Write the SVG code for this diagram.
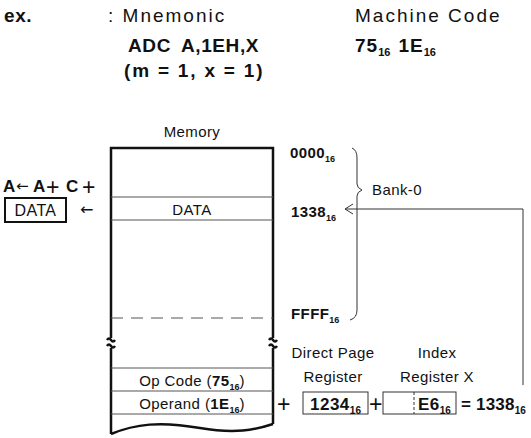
<svg xmlns="http://www.w3.org/2000/svg" width="531" height="438" viewBox="0 0 531 438">
<style>
text{font-family:"Liberation Sans",Arial,sans-serif;fill:#111;font-size:15px;letter-spacing:0.4px}
.b{font-weight:bold}
.s{font-size:9px;font-weight:bold;letter-spacing:0}
.h{font-size:19px;letter-spacing:2px}
.hb{font-size:19px;font-weight:bold;letter-spacing:0.6px}
.hs{font-size:11px;font-weight:bold;letter-spacing:0}
.m{font-size:17px;font-weight:bold;letter-spacing:0.5px}
.ms{font-size:10px;font-weight:bold;letter-spacing:0}
.plus{font-size:23px;font-weight:normal;letter-spacing:0}
.arr{font-family:"DejaVu Sans",sans-serif;font-weight:normal;letter-spacing:0}
.edge{fill:none;stroke:#111;stroke-width:2.5}
.thin{fill:none;stroke:#555;stroke-width:1}
.ln{fill:none;stroke:#333;stroke-width:1}
</style>
<rect width="531" height="438" fill="#fff"/>
<g id="header">
<text x="4" y="22" class="hb">ex.</text>
<text x="108" y="22" class="h">: Mnemonic</text>
<text x="355" y="22" class="h">Machine Code</text>
<text x="128" y="52" class="hb">ADC<tspan dx="10">A,1EH,X</tspan></text>
<text x="355" y="52" class="hb" style="letter-spacing:1px">75<tspan class="hs" dy="4">16</tspan><tspan dy="-4" dx="8">1E</tspan><tspan class="hs" dy="4">16</tspan></text>
<text x="124" y="77" class="hb" style="letter-spacing:1.8px">(m = 1, x = 1)</text>
</g>
<g id="memory">
<text x="192" y="137" text-anchor="middle">Memory</text>
<path class="edge" d="M111,338 V148 H273 V338"/>
<path class="edge" d="M111,348 V434 M273,348 V424"/>
<path class="edge" d="M107,340 q2,-3 4,0 t4,0 M107,346 q2,-3 4,0 t4,0 M269,340 q2,-3 4,0 t4,0 M269,346 q2,-3 4,0 t4,0"/>
<path class="edge" d="M111,434 C135,424 160,421 200,428 C235,434 255,430 273,424"/>
<path class="thin" d="M111,197 H273 M111,220 H273 M111,368 H273 M111,391 H273 M111,414 H273"/>
<path class="thin" d="M111,318 H273" stroke-dasharray="12,8"/>
<text x="192" y="215" text-anchor="middle">DATA</text>
<text x="192" y="386" text-anchor="middle">Op Code (<tspan class="b">75</tspan><tspan class="s" dy="4">16</tspan><tspan dy="-4">)</tspan></text>
<text x="192" y="409" text-anchor="middle">Operand (<tspan class="b">1E</tspan><tspan class="s" dy="4">16</tspan><tspan dy="-4">)</tspan></text>
</g>
<g id="addresses">
<text x="290" y="158" class="b">0000<tspan class="s" dy="4">16</tspan></text>
<text x="291" y="217" class="b">1338<tspan class="s" dy="4">16</tspan></text>
<text x="291" y="319" class="b">FFFF<tspan class="s" dy="4">16</tspan></text>
<path class="ln" d="M352,148 Q357,150 357,158 V184 Q357,188 362,190 Q357,192 357,196 V310 Q357,318 350,320"/>
<text x="372" y="195">Bank-0</text>
</g>
<g id="accumulator">
<text x="3" y="192" class="m">A</text>
<text x="16" y="191" class="arr" style="font-size:15px">←</text>
<text x="33" y="192" class="m">A</text>
<text x="46" y="195" class="plus">+</text>
<text x="66" y="192" class="m">C</text>
<text x="82" y="195" class="plus">+</text>
<rect x="5" y="198" width="61" height="24" fill="none" stroke="#111" stroke-width="2"/>
<text x="35.5" y="216" text-anchor="middle" style="font-size:16px">DATA</text>
<text x="80" y="215" class="arr" style="font-size:16px">←</text>
</g>
<g id="registers">
<text x="333" y="358" text-anchor="middle">Direct Page</text>
<text x="333" y="382" text-anchor="middle">Register</text>
<text x="437" y="358" text-anchor="middle">Index</text>
<text x="437" y="382" text-anchor="middle">Register X</text>
<text x="277" y="412" class="plus">+</text>
<rect x="303" y="392" width="65" height="22" fill="none" stroke="#333" stroke-width="1"/>
<text x="310" y="410" class="m">1234<tspan class="ms" dy="4">16</tspan></text>
<text x="369" y="412" class="plus">+</text>
<rect x="383" y="392" width="73" height="22" fill="none" stroke="#333" stroke-width="1"/>
<path class="ln" d="M414,392 V414" stroke-dasharray="3,2"/>
<text x="418" y="410" class="m">E6<tspan class="ms" dy="4">16</tspan></text>
<text x="461" y="410" class="m" style="letter-spacing:0.2px">= 1338<tspan class="ms" dy="4">16</tspan></text>
</g>
<g id="connectors">
<path class="ln" d="M523,385 V209 H345"/>
<path class="ln" d="M353,204 L345,209 L353,214"/>
</g>
</svg>
